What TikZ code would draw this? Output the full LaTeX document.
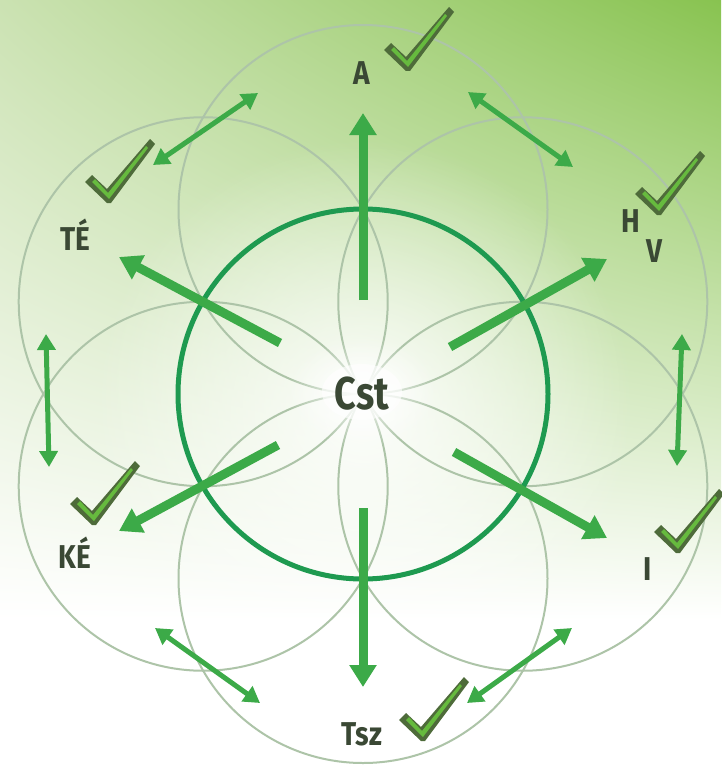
\documentclass[tikz,border=0pt]{standalone}
\usepackage{fontspec}
\setmainfont{Fira Sans}
\usetikzlibrary{arrows.meta,calc,shadings,fadings}
\definecolor{bgUL}{HTML}{CBE2B2}
\definecolor{bgUR}{HTML}{88C350}
\definecolor{bgLL}{HTML}{FFFFFF}
\definecolor{bgLR}{HTML}{FFFFFF}
\definecolor{petal}{HTML}{ADC4A8}
\definecolor{ring}{HTML}{1E9A50}
\definecolor{arrowgreen}{HTML}{3CAA48}
\definecolor{labeltxt}{HTML}{3A4834}
\definecolor{ckdark}{HTML}{4E6B3A}
\definecolor{cklight}{HTML}{66BA3E}
\tikzfading[name=glowfade, inner color=transparent!0, outer color=transparent!100]
\tikzset{
  petalline/.style={draw=petal, line width=2pt},
  ringline/.style={draw=ring, line width=5pt},
  radarrow/.style={draw=arrowgreen, line width=9pt, -{Triangle[width=26pt,length=22pt]}},
  duoarrow/.style={draw=arrowgreen, line width=5pt, {Triangle[width=18pt,length=16pt]}-{Triangle[width=18pt,length=16pt]}},
  lbl/.style={text=labeltxt, anchor=base, inner sep=0pt, font=\bfseries\fontsize{33}{33}\selectfont},
  bigl/.style={text=labeltxt, anchor=base, inner sep=0pt, font=\bfseries\fontsize{46}{46}\selectfont},
  checkmk/.pic={
    \fill[ckdark] (-23,-18) -- (-16,-25) -- (-1,-11) -- (42,-61) -- (47,-56) -- (3,3) -- (-1,3) -- cycle;
    \fill[cklight] (-16,-18) -- (-13,-21) -- (0,-7) -- (38,-54) -- (40,-52) -- (1,-1) -- cycle;
  }
}
\begin{document}
\begin{tikzpicture}[x=1pt,y=-1pt]
\useasboundingbox (0,0) rectangle (721,765);
% background
\fill[white] (0,0) rectangle (721,765);
\shade[upper left=bgUL, upper right=bgUR, lower left=bgLL, lower right=bgLR] (0,0) rectangle (721,620);
% central glow
\fill[white, path fading=glowfade, fill opacity=0.9] (363,410) circle (270);
% petal circles
\coordinate (c0) at (363,394);
\foreach \a in {90,150,210,270,330,30} {
  \draw[petalline] ($(c0)+({184.5*cos(\a)},{-184.5*sin(\a)})$) circle (184.5);
}
\draw[petalline] (c0) circle (184.5);
% glow behind Cst
\fill[white, path fading=glowfade, fill opacity=0.95] (362,392) ellipse (75 and 55);
\fill[white, fill opacity=0.6] (362,392) ellipse (40 and 28);
% thick ring
\draw[ringline] (c0) circle (185);
% radial arrows
\coordinate (uT) at (363,300);  \coordinate (uH) at (363,113);
\coordinate (tT) at (280,343);  \coordinate (tH) at (119,257);
\coordinate (hT) at (450,347);  \coordinate (hH) at (607,259);
\coordinate (kT) at (278,445);  \coordinate (kH) at (119,531);
\coordinate (iT) at (454,452);  \coordinate (iH) at (607,538);
\coordinate (sT) at (363,508);  \coordinate (sH) at (363,687);
\foreach \p in {u,t,h,k,i,s} {
  \draw[radarrow] (\p T) -- (\p H);
}
% double arrows
\coordinate (d1a) at (258,93);  \coordinate (d1b) at (153,165);
\coordinate (d2a) at (468,92);  \coordinate (d2b) at (573,167);
\coordinate (d3a) at (46,334);  \coordinate (d3b) at (49,467);
\coordinate (d4a) at (682,334); \coordinate (d4b) at (677,466);
\coordinate (d5a) at (155,628); \coordinate (d5b) at (260,703);
\coordinate (d6a) at (467,703); \coordinate (d6b) at (572,628);
\foreach \n in {1,...,6} {
  \draw[duoarrow] (d\n a) -- (d\n b);
}
% check marks
\pic at (407,68) {checkmk};
\pic at (658,212) {checkmk};
\pic at (108,200) {checkmk};
\pic at (93,522) {checkmk};
\pic at (677,550) {checkmk};
\pic at (422,738) {checkmk};
% labels
\node[bigl] (cst) at (362,409) {\scalebox{0.82}[1]{Cst}};
\node[lbl] (la) at (362,85) {\scalebox{0.85}[1]{A}};
\node[lbl] (lte) at (75,250) {\scalebox{0.85}[1]{TÉ}};
\node[lbl] (lke) at (75,568) {\scalebox{0.85}[1]{KÉ}};
\node[lbl] (li) at (648,580) {\scalebox{0.85}[1]{I}};
\node[lbl] (ltsz) at (362,745) {\scalebox{0.85}[1]{Tsz}};
\node[lbl] (lh) at (631,232) {\scalebox{0.85}[1]{H}};
\node[lbl] (lv) at (654,262) {\scalebox{0.85}[1]{V}};
\end{tikzpicture}
\end{document}
